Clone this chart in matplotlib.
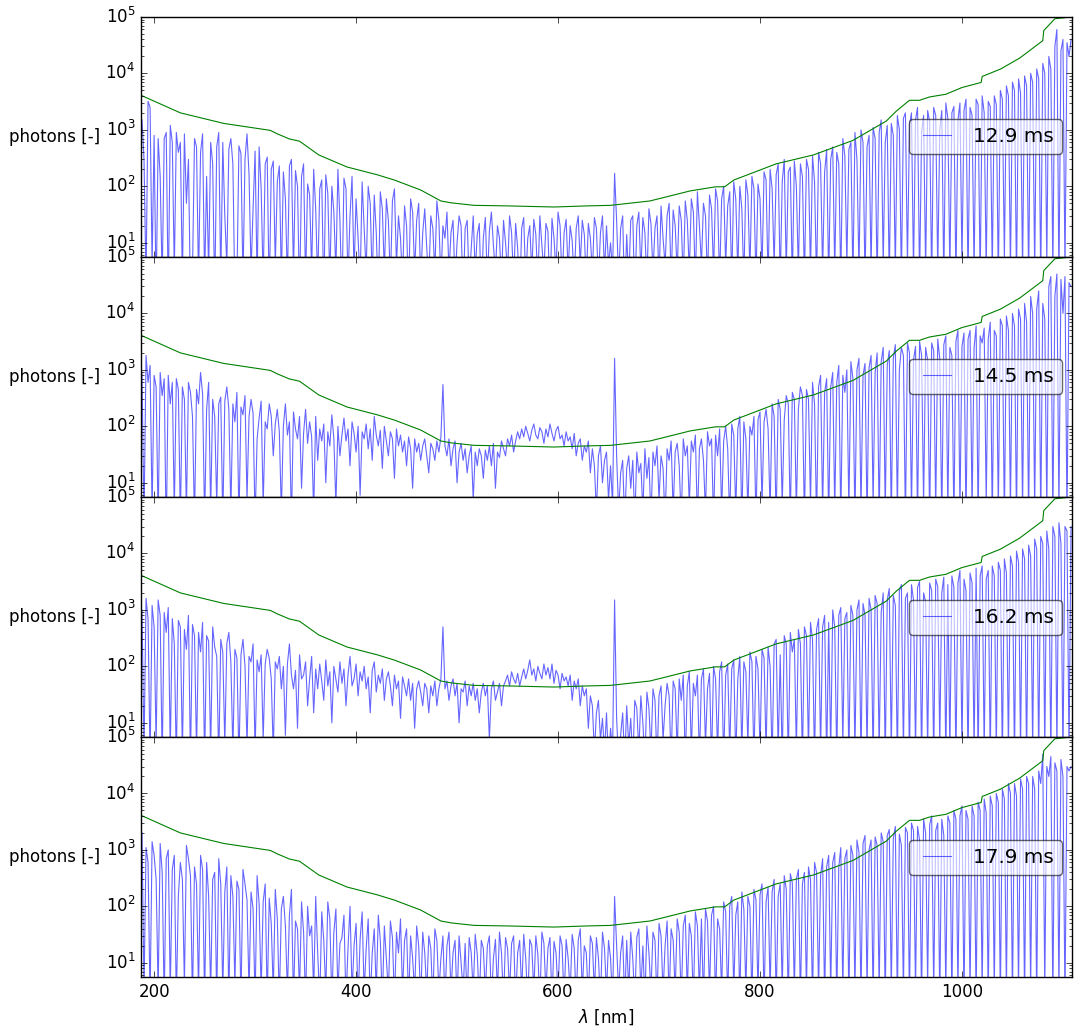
import numpy as np
import matplotlib
matplotlib.use("Agg")
import matplotlib.pyplot as plt

plt.style.use("classic")
plt.rcParams["font.family"] = ["DejaVu Sans"]
plt.rcParams["mathtext.fontset"] = "dejavusans"

labels = ["12.9 ms", "14.5 ms", "16.2 ms", "17.9 ms"]
wl_start, wl_step = 188, 2   # spectra sampled every 2 nm from 188 nm

photons_129 = [
    1500, 300, 2, 3200, 2500, 4, 800, 1, 700, 150,
    2, 700, 900, 1, 1200, 600, 3, 900, 400, 600,
    2, 850, 50, 300, 1, 3, 700, 500, 2, 400,
    850, 2, 150, 3, 600, 250, 1, 500, 900, 2,
    600, 30, 4, 450, 700, 250, 1, 2, 520, 380,
    2, 300, 850, 160, 3, 40, 420, 2, 500, 90,
    2, 250, 330, 1, 200, 280, 4, 120, 230, 2,
    180, 60, 2, 230, 300, 3, 190, 100, 1, 150,
    250, 2, 110, 70, 3, 200, 40, 2, 90, 130,
    1, 160, 75, 2, 100, 35, 3, 200, 25, 1,
    140, 90, 2, 30, 150, 3, 60, 12, 2, 120,
    18, 3, 100, 50, 2, 70, 15, 1, 80, 40,
    3, 60, 25, 2, 55, 90, 4, 30, 12, 2,
    45, 20, 1, 60, 35, 3, 25, 50, 2, 15,
    40, 8, 2, 30, 18, 3, 55, 25, 2, 20,
    12, 35, 3, 15, 25, 2, 10, 30, 20, 1,
    18, 25, 2, 8, 30, 3, 14, 22, 1, 12,
    28, 2, 16, 35, 9, 3, 20, 12, 2, 25,
    10, 3, 30, 15, 2, 22, 8, 1, 18, 28,
    2, 12, 20, 3, 26, 14, 2, 30, 9, 3,
    22, 16, 1, 27, 12, 3, 35, 20, 2, 15,
    26, 3, 20, 11, 2, 18, 30, 4, 25, 14,
    2, 22, 12, 3, 28, 18, 2, 15, 30, 3,
    20, 4, 10, 3, 170, 25, 2, 18, 30, 1,
    14, 2, 25, 30, 1, 20, 35, 3, 28, 15,
    2, 40, 22, 3, 18, 30, 2, 45, 12, 4,
    30, 50, 2, 38, 20, 3, 45, 25, 2, 55,
    25, 3, 60, 35, 2, 80, 20, 4, 50, 30,
    2, 70, 40, 3, 90, 55, 2, 60, 100, 4,
    45, 80, 2, 120, 60, 3, 100, 40, 2, 130,
    70, 3, 150, 90, 2, 110, 60, 3, 180, 130,
    2, 200, 90, 4, 160, 250, 2, 120, 300, 3,
    180, 220, 2, 280, 100, 3, 250, 150, 2, 300,
    200, 3, 350, 120, 2, 400, 250, 3, 180, 450,
    2, 300, 500, 3, 400, 250, 2, 700, 350, 4,
    450, 600, 2, 900, 300, 3, 1000, 600, 2, 500,
    800, 3, 1100, 700, 2, 900, 1500, 4, 600, 1200,
    2, 1300, 800, 3, 1800, 1000, 2, 1600, 2000, 4,
    1200, 2000, 3, 1500, 2500, 2, 900, 1800, 3, 2200,
    1400, 2, 2500, 1800, 3, 1000, 2200, 2, 3000, 1600,
    3, 2000, 2600, 2, 1500, 3000, 4, 2200, 3500, 2,
    2500, 1800, 3, 3500, 2800, 2, 4000, 2000, 3, 3200,
    2600, 3, 4000, 2800, 2, 5000, 3500, 5, 6000, 4000,
    3, 7000, 5000, 2, 8000, 4500, 3, 9000, 6000, 2,
    10000, 7000, 3, 12000, 8000, 2, 15000, 10000, 4, 20000,
    12000, 3, 30000, 60000, 2, 25000, 40000, 3, 35000, 20000,
    40000,
]

photons_145 = [
    900, 2, 1800, 600, 1200, 3, 800, 500, 2, 900,
    350, 700, 1, 800, 250, 600, 3, 700, 450, 2,
    500, 300, 3, 600, 400, 150, 2, 450, 250, 900,
    380, 2, 200, 600, 3, 300, 150, 4, 250, 330,
    2, 280, 500, 200, 3, 250, 120, 400, 2, 220,
    160, 350, 5, 150, 300, 170, 2, 60, 140, 280,
    4, 120, 90, 250, 150, 30, 110, 200, 80, 3,
    100, 250, 70, 120, 2, 180, 90, 60, 150, 8,
    75, 200, 50, 120, 65, 3, 150, 25, 90, 55,
    110, 10, 80, 45, 160, 60, 4, 100, 30, 70,
    140, 55, 90, 20, 120, 75, 35, 100, 6, 80,
    60, 110, 40, 90, 25, 150, 70, 45, 85, 18,
    100, 55, 30, 80, 60, 12, 90, 45, 70, 35,
    55, 20, 65, 40, 8, 60, 35, 50, 25, 45,
    60, 30, 15, 50, 40, 25, 55, 35, 65, 550,
    45, 30, 60, 20, 40, 55, 10, 35, 50, 25,
    40, 15, 30, 45, 5, 35, 20, 40, 30, 12,
    38, 25, 45, 20, 50, 8, 35, 28, 55, 40,
    30, 60, 45, 70, 35, 55, 80, 60, 90, 65,
    100, 75, 55, 85, 110, 70, 60, 95, 80, 50,
    90, 65, 110, 75, 55, 85, 100, 60, 70, 45,
    80, 55, 65, 40, 75, 30, 50, 60, 25, 45,
    35, 55, 15, 40, 20, 3, 30, 45, 10, 25,
    35, 5, 20, 4, 1600, 30, 3, 15, 25, 2,
    18, 30, 8, 25, 2, 35, 15, 22, 3, 40,
    12, 28, 2, 35, 20, 45, 5, 30, 18, 2,
    40, 25, 55, 3, 35, 50, 20, 2, 60, 30,
    45, 4, 55, 35, 70, 2, 40, 60, 25, 3,
    80, 45, 60, 2, 70, 30, 90, 3, 55, 100,
    40, 2, 110, 70, 3, 90, 150, 2, 120, 60,
    3, 100, 70, 150, 2, 130, 180, 4, 120, 200,
    90, 3, 250, 150, 2, 300, 200, 4, 130, 350,
    250, 2, 400, 300, 3, 200, 500, 350, 2, 450,
    300, 4, 600, 250, 2, 500, 800, 3, 400, 700,
    2, 500, 900, 3, 600, 1200, 2, 800, 400, 1000,
    3, 1400, 700, 2, 1000, 1600, 3, 800, 1300, 2,
    1100, 1800, 4, 900, 2000, 2, 1400, 2500, 3, 1200,
    2200, 2, 1600, 2800, 3, 1000, 2500, 1800, 2, 3000,
    2000, 3, 1500, 2600, 2, 3200, 1800, 4, 2500, 1500,
    2, 3000, 2200, 3, 3500, 1600, 2, 2800, 4000, 3,
    2500, 1800, 2, 3200, 5000, 3, 2600, 4500, 2, 3500,
    5000, 3, 2500, 6000, 2, 4000, 3000, 5500, 4, 3500,
    7000, 2, 5000, 4000, 3, 8000, 6000, 2, 9000, 5000,
    3, 10000, 6000, 2, 12000, 8000, 3, 15000, 7000, 2,
    20000, 10000, 3, 12000, 25000, 2, 15000, 8000, 3, 30000,
    45000, 2, 20000, 50000, 3, 40000, 10000, 45000, 2, 35000,
    30000,
]

photons_162 = [
    1000, 3, 1600, 700, 2, 1200, 500, 4, 1500, 800,
    2, 900, 400, 1100, 3, 700, 250, 2, 650, 500,
    3, 450, 200, 800, 2, 550, 350, 3, 400, 180,
    600, 2, 350, 280, 3, 500, 220, 150, 2, 300,
    180, 4, 250, 400, 120, 3, 200, 140, 2, 160,
    300, 100, 4, 150, 120, 250, 3, 130, 80, 160,
    5, 110, 200, 140, 60, 3, 120, 90, 150, 40,
    100, 6, 110, 250, 70, 40, 85, 8, 160, 60,
    70, 120, 20, 60, 150, 15, 90, 40, 110, 55,
    25, 130, 45, 80, 10, 100, 60, 35, 120, 50,
    90, 20, 70, 150, 45, 60, 110, 30, 80, 55,
    100, 40, 65, 15, 85, 120, 35, 70, 50, 90,
    25, 60, 80, 45, 20, 70, 40, 55, 12, 65,
    45, 30, 60, 25, 50, 8, 40, 55, 35, 20,
    50, 40, 15, 45, 30, 55, 20, 40, 60, 500,
    40, 55, 25, 45, 60, 30, 50, 10, 40, 35,
    55, 20, 45, 30, 50, 25, 40, 15, 35, 50,
    30, 45, 5, 40, 55, 25, 35, 50, 20, 45,
    55, 70, 45, 80, 60, 50, 75, 45, 65, 90,
    60, 85, 130, 70, 90, 55, 100, 75, 60, 110,
    70, 95, 60, 110, 50, 85, 70, 40, 75, 55,
    65, 45, 70, 25, 55, 40, 60, 20, 45, 30,
    40, 8, 30, 20, 3, 15, 25, 5, 12, 3,
    15, 2, 8, 3, 1500, 12, 2, 6, 15, 2,
    20, 4, 12, 2, 25, 18, 3, 30, 10, 2,
    35, 18, 3, 40, 25, 2, 30, 45, 5, 20,
    50, 30, 2, 55, 40, 3, 60, 25, 70, 2,
    45, 80, 3, 50, 30, 70, 2, 60, 90, 4,
    40, 75, 2, 100, 60, 3, 80, 120, 2, 70,
    110, 3, 90, 130, 2, 60, 150, 3, 120, 80,
    4, 180, 120, 2, 150, 90, 3, 200, 140, 3,
    220, 100, 2, 250, 300, 3, 160, 2, 350, 250,
    2, 400, 180, 300, 3, 450, 250, 2, 500, 350,
    3, 600, 300, 2, 450, 700, 3, 500, 800, 2,
    600, 3, 1000, 500, 2, 800, 1100, 4, 700, 900,
    2, 1200, 800, 3, 1000, 1500, 2, 1300, 800, 3,
    1600, 1000, 2, 1800, 1300, 3, 900, 2000, 2, 1500,
    2400, 3, 1800, 1200, 2, 2200, 2800, 3, 1600, 2000,
    2, 2800, 1500, 3, 2500, 3200, 2, 2000, 1400, 3,
    3000, 2200, 2, 3500, 2600, 4, 2000, 3800, 2, 2800,
    3, 4000, 2500, 2, 3000, 5000, 3, 3500, 2200, 2,
    4500, 3000, 3, 5500, 2, 4000, 6000, 3, 3500, 5000,
    2, 6000, 4000, 3, 7000, 5000, 2, 8000, 4500, 3,
    9000, 6000, 2, 11000, 7000, 3, 12000, 8000, 2, 14000,
    9000, 3, 18000, 12000, 2, 20000, 15000, 3, 25000, 12000,
    2, 30000, 20000, 3, 35000, 15000, 2, 30000, 25000, 3,
    30000,
]

photons_179 = [
    2000, 3, 1100, 600, 2, 1400, 800, 300, 3, 1300,
    400, 2, 700, 1000, 3, 450, 800, 2, 150, 600,
    300, 4, 1200, 700, 350, 2, 500, 250, 3, 800,
    450, 2, 600, 150, 3, 300, 400, 2, 700, 250,
    3, 180, 500, 2, 350, 150, 4, 280, 200, 2,
    450, 250, 130, 3, 180, 90, 2, 350, 110, 3,
    120, 250, 2, 140, 50, 3, 200, 60, 2, 90,
    150, 45, 3, 70, 200, 2, 55, 40, 3, 120,
    35, 2, 100, 30, 45, 3, 150, 15, 2, 80,
    25, 3, 120, 60, 2, 35, 90, 3, 22, 28,
    70, 2, 18, 100, 3, 20, 50, 2, 26, 80,
    3, 18, 60, 2, 15, 40, 3, 70, 25, 2,
    45, 12, 3, 55, 28, 2, 35, 15, 60, 3,
    25, 40, 2, 30, 12, 3, 45, 20, 2, 35,
    15, 3, 30, 18, 2, 40, 25, 3, 12, 30,
    2, 20, 35, 3, 15, 25, 2, 30, 10, 3,
    22, 2, 28, 15, 3, 32, 14, 2, 25, 18,
    3, 20, 30, 2, 12, 26, 3, 35, 15, 2,
    28, 18, 3, 22, 30, 2, 15, 25, 3, 32,
    12, 2, 26, 20, 3, 30, 14, 2, 35, 22,
    3, 18, 28, 2, 24, 15, 3, 30, 20, 2,
    26, 12, 3, 32, 18, 2, 25, 40, 3, 20,
    15, 2, 30, 22, 3, 28, 12, 2, 35, 18,
    3, 25, 12, 2, 150, 20, 3, 15, 30, 2,
    25, 3, 35, 12, 2, 28, 40, 3, 20, 2,
    45, 15, 3, 35, 25, 2, 50, 30, 3, 20,
    55, 2, 40, 25, 3, 60, 35, 2, 45, 70,
    3, 50, 30, 2, 80, 45, 3, 60, 2, 90,
    55, 3, 70, 100, 2, 60, 40, 3, 120, 80,
    2, 100, 150, 3, 70, 120, 2, 180, 90, 3,
    150, 100, 2, 200, 130, 3, 160, 250, 2, 120,
    220, 3, 180, 300, 2, 150, 250, 3, 350, 200,
    2, 380, 260, 3, 300, 450, 2, 250, 400, 3,
    500, 300, 2, 600, 400, 3, 350, 700, 2, 500,
    800, 3, 600, 900, 2, 500, 1100, 3, 700, 1000,
    2, 1200, 800, 3, 1500, 900, 2, 1300, 1800, 3,
    1000, 1500, 2, 1700, 1200, 3, 2000, 1400, 2, 1800,
    2300, 3, 1600, 2600, 2, 1900, 1200, 3, 2500, 2000,
    2, 3000, 2200, 3, 2600, 1500, 2, 3500, 2000, 4,
    2800, 4000, 3, 2200, 3000, 2, 3500, 1800, 3, 4000,
    3000, 2, 5000, 3500, 3, 4000, 6000, 2, 5000, 3500,
    3, 6000, 4000, 2, 7000, 5000, 3, 8000, 4500, 2,
    9000, 6000, 3, 10000, 7000, 2, 12000, 8000, 3, 15000,
    10000, 2, 15000, 9000, 3, 18000, 12000, 2, 20000, 15000,
    3, 20000, 12000, 2, 25000, 15000, 50000, 3, 30000, 20000,
    45000, 2, 35000, 25000, 3, 40000, 20000, 2, 30000, 25000,
    30000,
]

# green threshold curve (same in every panel)
threshold_wl = [187, 226, 269, 315, 322, 334, 344, 363, 391, 421, 438, 464,
                484, 494, 517, 550, 596, 629, 652, 691, 731, 756, 765, 774,
                816, 853, 892, 925, 935, 948, 958, 968, 984, 1000, 1019, 1020,
                1038, 1057, 1080, 1081, 1092, 1104, 1109]
threshold_val = [4100, 2000, 1300, 980, 850, 690, 630, 360, 220, 160, 129, 86,
                 55, 51, 46, 45, 43, 45, 46, 55, 83, 98, 98, 129,
                 250, 360, 650, 1430, 2150, 3340, 3340, 3830, 4270, 5620, 6920, 8830,
                 11900, 18600, 38000, 57500, 93000, 98000, 98000]

series = [photons_129, photons_145, photons_162, photons_179]

fig = plt.figure(figsize=(10.82, 10.34), dpi=100, facecolor="white")
fig.subplots_adjust(left=0.1303, right=0.9908, top=0.9836, bottom=0.0551, hspace=0.0)
axes = [fig.add_subplot(4, 1, i + 1) for i in range(4)]

for ax, vals, lab in zip(axes, series, labels):
    wl = wl_start + wl_step * np.arange(len(vals))
    ax.plot(wl, vals, color="b", alpha=0.6, lw=0.8, label=lab)
    ax.plot(threshold_wl, threshold_val, color="g", lw=0.8)
    ax.set_yscale("log", nonpositive="clip")
    ax.set_xlim(187, 1109)
    ax.set_ylim(5.6, 1e5)
    ax.set_ylabel("photons [-]", rotation=0, ha="right", va="center")
    ax.yaxis.set_label_coords(-0.044, 0.5)
    leg = ax.legend(loc="center right", fancybox=True, framealpha=0.6,
                    fontsize=14.4, handlelength=2.0, borderaxespad=0.5)
    leg.get_frame().set_edgecolor("black")
    ax.set_xticks([200, 400, 600, 800, 1000])
    if ax is not axes[-1]:
        ax.tick_params(labelbottom=False)

axes[-1].set_xlabel(r"$\lambda$ [nm]")

fig.savefig("out.png", dpi=100, facecolor="white")
